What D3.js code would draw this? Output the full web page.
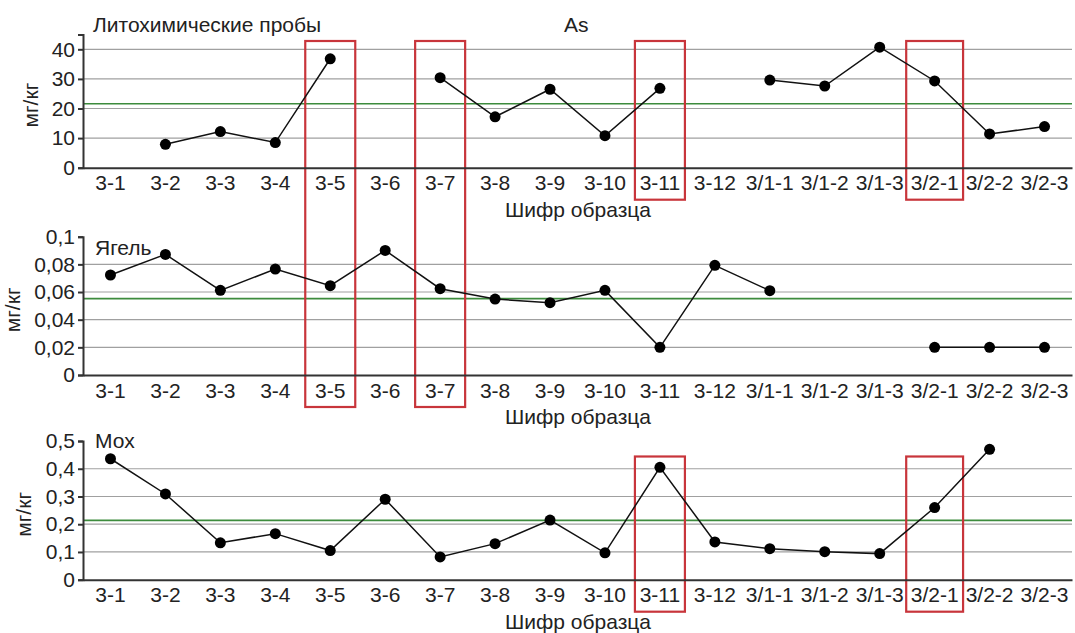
<!DOCTYPE html>
<html>
<head>
<meta charset="utf-8">
<script src="https://cdn.jsdelivr.net/npm/d3@7"></script>
<style>
  body { margin: 0; background: #fff; }
  text { font-family: "Liberation Sans", Arial, sans-serif; fill: #222; }
  .axis path, .axis line { stroke: #333; stroke-width: 2; }
  .axis text { font-size: 21px; fill: #222; }
</style>
</head>
<body>
<div id="chart"></div>
<script>
// sample codes on the x axis
const samples = ["3-1", "3-2", "3-3", "3-4", "3-5", "3-6", "3-7", "3-8", "3-9", "3-10",
  "3-11", "3-12", "3/1-1", "3/1-2", "3/1-3", "3/2-1", "3/2-2", "3/2-3"];

// As in litho samples, mg/kg (null = no value)
const asValues = [null, 7.9, 12.2, 8.5, 36.8, null, 30.4, 17.2, 26.5, 10.8,
  26.8, null, 29.6, 27.6, 40.7, 29.3, 11.4, 13.9];
// lichen (Ягель)
const lichenValues = [0.0723, 0.0872, 0.0612, 0.0766, 0.0646, 0.0901, 0.0624, 0.0549, 0.0523, 0.0612,
  0.02, 0.0793, 0.061, null, null, 0.02, 0.02, 0.02];
// moss (Мох)
const mossValues = [0.436, 0.309, 0.133, 0.166, 0.105, 0.290, 0.082, 0.130, 0.215, 0.097,
  0.405, 0.136, 0.112, 0.101, 0.094, 0.260, 0.470, null];

// background (green) levels
const backgroundLevels = [21.6, 0.0552, 0.214];
const panelNames = ["Литохимические пробы", "Ягель", "Мох"];
const yMax = [45, 0.1, 0.5];
const yTicks = [[0, 10, 20, 30, 40], [0, 0.02, 0.04, 0.06, 0.08, 0.1], [0, 0.1, 0.2, 0.3, 0.4, 0.5]];

// highlighted samples (red frames): sample, first panel, last panel
const frameSamples = ["3-5", "3-7", "3-11", "3/2-1", "3-11", "3/2-1"];
const frameFirstPanel = [0, 0, 0, 0, 2, 2];
const frameLastPanel = [1, 1, 0, 0, 2, 2];

const width = 1075, height = 633;
const fontSize = 21;
const xLeft = 83, xRight = 1072;
// bottom / top pixel of each panel's value axis
const panelBottom = [167.7, 375, 579.7];
const panelTop = [34.5, 236.7, 441];
const frameTop = [41, 240, 456.5];

const svg = d3.select("#chart").append("svg")
  .attr("width", width)
  .attr("height", height);

const x = d3.scaleBand()
  .domain(samples)
  .range([xLeft, xRight]);

const fmt = d => d === 0 ? "0" : String(+d.toFixed(2)).replace(".", ",");

const allSeries = [asValues, lichenValues, mossValues];

const gridLayer = svg.append("g");
const frameLayer = svg.append("g");
const axisLayer = svg.append("g");
const dataLayer = svg.append("g");

allSeries.forEach(function(values, p) {
  const y = d3.scaleLinear()
    .domain([0, yMax[p]])
    .range([panelBottom[p], panelTop[p]]);

  //---------------------------------------- grid (no line at 0 or at the top tick)
  gridLayer.selectAll(".grid" + p)
    .data(yTicks[p].filter(t => t > 0 && t < yMax[p] - 1e-9))
    .enter().append("line")
    .attr("x1", xLeft).attr("x2", xRight)
    .attr("y1", d => y(d)).attr("y2", d => y(d))
    .attr("stroke", "#a0a0a0")
    .attr("stroke-width", 1.2);

  // background level
  gridLayer.append("line")
    .attr("x1", xLeft).attr("x2", xRight)
    .attr("y1", y(backgroundLevels[p])).attr("y2", y(backgroundLevels[p]))
    .attr("stroke", "#3d8b3d")
    .attr("stroke-width", 1.6);

  //---------------------------------------- axes
  const yAxis = axisLayer.append("g")
    .attr("class", "axis")
    .attr("transform", "translate(" + xLeft + ",0)")
    .call(d3.axisLeft(y).tickValues(yTicks[p]).tickFormat(fmt).tickSize(5).tickSizeOuter(5).tickPadding(3));

  axisLayer.append("g")
    .attr("class", "axis")
    .attr("transform", "translate(0," + panelBottom[p] + ")")
    .call(d3.axisBottom(x).tickSize(0).tickPadding(7))
    .call(g => g.selectAll("text").attr("dy", "0.74em"));

  // y title placed left of the widest tick label
  let minLeft = xLeft;
  yAxis.selectAll(".tick text").each(function() {
    const b = this.getBBox();
    minLeft = Math.min(minLeft, xLeft - 8 - b.width);
  });
  const yMid = (panelBottom[p] + panelTop[p]) / 2 + 4;
  axisLayer.append("text")
    .attr("transform", "translate(" + (minLeft - 14) + "," + yMid + ") rotate(-90)")
    .attr("text-anchor", "middle")
    .style("font-size", fontSize + "px")
    .text("мг/кг");

  axisLayer.append("text")
    .attr("x", (xLeft + xRight) / 2 + 0.5)
    .attr("y", panelBottom[p] + 49)
    .attr("text-anchor", "middle")
    .style("font-size", fontSize + "px")
    .text("Шифр образца");

  //---------------------------------------- series
  const line = d3.line()
    .defined(d => d != null)
    .x((d, i) => x(samples[i]) + x.bandwidth() / 2)
    .y(d => y(d));

  dataLayer.append("path")
    .datum(values)
    .attr("d", line)
    .attr("fill", "none")
    .attr("stroke", "#111")
    .attr("stroke-width", 1.5);

  dataLayer.selectAll(".dot" + p)
    .data(values.map((v, i) => ({ v: v, s: samples[i] })).filter(d => d.v != null))
    .enter().append("circle")
    .attr("cx", d => x(d.s) + x.bandwidth() / 2)
    .attr("cy", d => y(d.v))
    .attr("r", 5.5)
    .attr("fill", "#000");
});

//---------------------------------------- panel names
svg.append("text").attr("x", 93).attr("y", 32).style("font-size", fontSize + "px").text(panelNames[0]);
svg.append("text").attr("x", 564).attr("y", 32).style("font-size", fontSize + "px").text("As");
svg.append("text").attr("x", 95).attr("y", 255).style("font-size", fontSize + "px").text(panelNames[1]);
svg.append("text").attr("x", 95).attr("y", 448).style("font-size", fontSize + "px").text(panelNames[2]);

//---------------------------------------- red frames
frameSamples.forEach(function(s, k) {
  const tmp = svg.append("text").style("font-size", fontSize + "px").text(s);
  const tw = tmp.node().getComputedTextLength();
  tmp.remove();
  const w = Math.max(50, tw + 9);
  const cx = x(s) + x.bandwidth() / 2;
  const top = frameTop[frameFirstPanel[k]];
  const bottom = panelBottom[frameLastPanel[k]] + 32;
  frameLayer.append("rect")
    .attr("x", cx - w / 2)
    .attr("y", top)
    .attr("width", w)
    .attr("height", bottom - top)
    .attr("fill", "none")
    .attr("stroke", "#c8353b")
    .attr("stroke-width", 2.2);
});
</script>
</body>
</html>
